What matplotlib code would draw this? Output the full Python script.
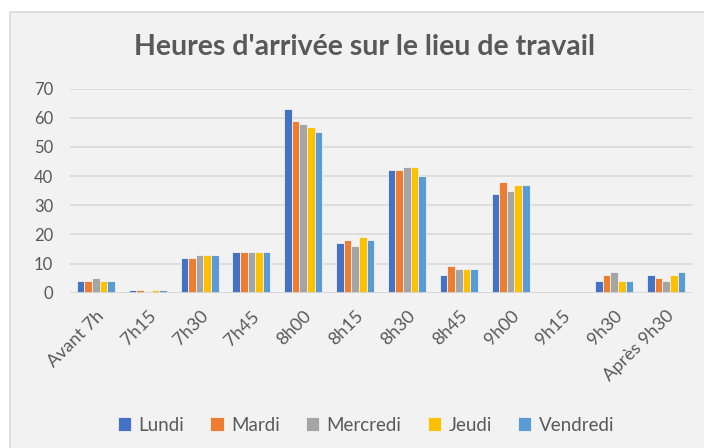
import matplotlib
matplotlib.use("Agg")
import matplotlib.pyplot as plt
from matplotlib.patches import Rectangle
import numpy as np

plt.rcParams['font.family'] = ['Lato', 'DejaVu Sans']

categories = ["Avant 7h", "7h15", "7h30", "7h45", "8h00", "8h15", "8h30",
              "8h45", "9h00", "9h15", "9h30", "Après 9h30"]
series_names = ["Lundi", "Mardi", "Mercredi", "Jeudi", "Vendredi"]
lundi    = [4, 1, 12, 14, 63, 17, 42, 6, 34, 0, 4, 6]
mardi    = [4, 1, 12, 14, 59, 18, 42, 9, 38, 0, 6, 5]
mercredi = [5, 0, 13, 14, 58, 16, 43, 8, 35, 0, 7, 4]
jeudi    = [4, 1, 13, 14, 57, 19, 43, 8, 37, 0, 4, 6]
vendredi = [4, 1, 13, 14, 55, 18, 40, 8, 37, 0, 4, 7]
series = [lundi, mardi, mercredi, jeudi, vendredi]
colors = ["#4472C4", "#ED7D31", "#A5A5A5", "#FFC000", "#5B9BD5"]
yticks = [0, 10, 20, 30, 40, 50, 60, 70]

W, H = 704, 448
fig = plt.figure(figsize=(W/100, H/100), dpi=100, facecolor="white")
fig.patches.append(Rectangle((10/W, -0.1), 1.2, 1 - 12/H + 0.1, transform=fig.transFigure,
                             facecolor="#f2f2f2", edgecolor="#d9d9d9", lw=1.2, zorder=-10))

ax = fig.add_axes([70/W, 1 - 292.7/H, 622/W, (292.7 - 88.7)/H])
ax.set_facecolor("none")
x = np.arange(len(categories))
group = 1 / 1.36
bw = group / len(series)
for i, (vals, c, name) in enumerate(zip(series, colors, series_names)):
    ax.bar(x - group/2 + bw*(i + 0.5), vals, width=bw, color=c, label=name,
           edgecolor="#f2f2f2", linewidth=0.6, zorder=3)

ax.set_xlim(-0.5, len(categories) - 0.5)
ax.set_ylim(0, 70)
ax.set_yticks(yticks)
ax.yaxis.grid(True, color="#d9d9d9", lw=1.2, zorder=0)
for s in ax.spines.values():
    s.set_visible(False)
ax.axhline(0, color="#d9d9d9", lw=1.2, zorder=4)
ax.tick_params(axis='both', length=0, colors="#595959")
ax.tick_params(axis='y', pad=12, labelsize=12)
ax.set_xticks(x)
ax.set_xticklabels(categories, rotation=45, ha="right", rotation_mode="anchor")
ax.tick_params(axis='x', pad=11, labelsize=13)

fig.text(365/W, 1 - 47/H, "Heures d'arrivée sur le lieu de travail", ha="center", va="center",
         fontsize=20.5, fontweight="bold", color="#595959")

leg = fig.legend(loc="center", bbox_to_anchor=(366/W, 1 - 425/H), ncol=5, frameon=False,
                 fontsize=13.5, handlelength=0.7, handleheight=0.7, handletextpad=0.4,
                 columnspacing=1.4, labelcolor="#595959")

fig.savefig("out.png", dpi=100, facecolor="white")
